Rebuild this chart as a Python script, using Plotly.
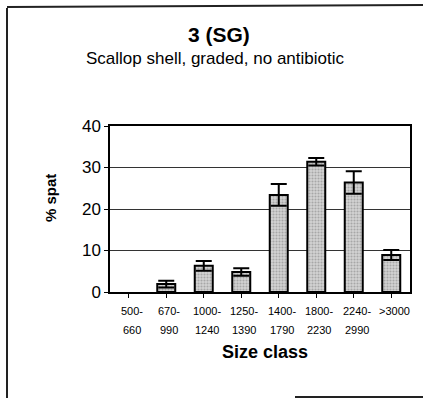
import plotly.graph_objects as go

# Size classes (two-line labels) and mean % spat with error
size_top = ["500-", "670-", "1000-", "1250-", "1400-", "1800-", "2240-", ">3000"]
size_bottom = ["660", "990", "1240", "1390", "1790", "2230", "2990", ""]
pct_spat = [0, 1.9, 6.3, 4.8, 23.4, 31.4, 26.4, 8.9]
pct_err = [0, 0.8, 1.2, 0.9, 2.6, 0.9, 2.7, 1.2]
y_ticks = [0, 10, 20, 30, 40]

W, H = 423, 398
L, R, T, B = 110, 13, 126, 106
FONT = "Arial, Liberation Sans, sans-serif"


def px_x(p):
    return (p - L) / (W - L - R)


def px_y(p):
    return (H - B - p) / (H - T - B)


def label(text, x, y, size, xref="paper", angle=0):
    return dict(text=text, x=x, y=y, xref=xref, yref="paper",
                xanchor="center", yanchor="middle", showarrow=False,
                textangle=angle, font=dict(family=FONT, size=size, color="black"))


cats = list(range(len(size_top)))
# empty size classes get no bar at all
shown = [i for i, v in enumerate(pct_spat) if v > 0]

fig = go.Figure()
fig.add_trace(go.Bar(
    x=[cats[i] for i in shown],
    y=[pct_spat[i] for i in shown],
    width=0.48,
    marker=dict(
        color="#cfcfcf",
        line=dict(color="black", width=2),
        pattern=dict(shape=".", fgcolor="#7a7a7a", bgcolor="#d4d4d4",
                     size=3, solidity=0.4),
    ),
    error_y=dict(type="data", array=[pct_err[i] for i in shown], visible=True,
                 color="black", thickness=2, width=8),
    showlegend=False,
))

annotations = [
    label("<b>3 (SG)</b>", px_x(219), px_y(34), 21),
    label("Scallop shell, graded, no antibiotic", px_x(215), px_y(58), 17),
    label("<b>% spat</b>", px_x(50), px_y(198), 15, angle=-90),
    label("<b>Size class</b>", px_x(265), px_y(352), 18),
]
for c, top, bot in zip(cats, size_top, size_bottom):
    annotations.append(label(top, c + 0.08, px_y(311), 11, xref="x"))
    if bot:
        annotations.append(label(bot, c + 0.08, px_y(330), 11, xref="x"))

# outer frame of the panel
line_style = dict(color="#222222", width=2)
shapes = [
    dict(type="line", xref="paper", yref="paper", x0=px_x(7), x1=px_x(7),
         y0=px_y(8), y1=px_y(400), line=line_style),
    dict(type="line", xref="paper", yref="paper", x0=px_x(7), x1=px_x(425),
         y0=px_y(7), y1=px_y(5), line=line_style),
    dict(type="line", xref="paper", yref="paper", x0=px_x(295), x1=px_x(425),
         y0=px_y(397), y1=px_y(397), line=line_style),
]

fig.update_layout(
    width=W, height=H,
    margin=dict(l=L, r=R, t=T, b=B, pad=0),
    paper_bgcolor="white", plot_bgcolor="white",
    annotations=annotations,
    shapes=shapes,
)
fig.update_xaxes(
    range=[-0.5, len(cats) - 0.5],
    tickmode="array", tickvals=cats, ticktext=[""] * len(cats),
    ticks="outside", ticklen=4, tickcolor="black", tickson="boundaries",
    showline=True, linecolor="black", linewidth=1.5, mirror=True,
    showgrid=False, zeroline=False,
)
fig.update_yaxes(
    range=[0, 40], tickvals=y_ticks,
    ticks="outside", ticklen=4, tickcolor="black",
    tickfont=dict(family=FONT, size=17, color="black"),
    showline=True, linecolor="black", linewidth=1.5, mirror=True,
    showgrid=True, gridcolor="#333333", gridwidth=1, zeroline=False,
)

fig.write_html("out.html")
